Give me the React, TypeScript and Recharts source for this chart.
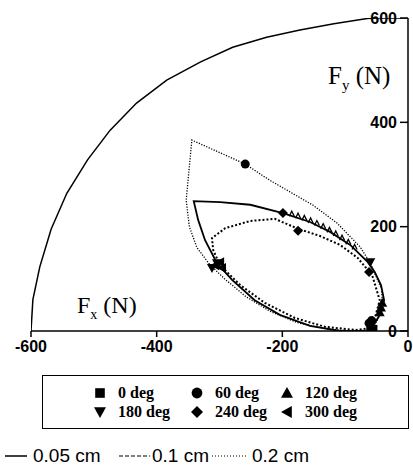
import React from 'react';
import { ScatterChart, Scatter, XAxis, YAxis } from 'recharts';

// quarter circle boundary (N)
const arcPts = [
  { x: -600, y: 0 }, { x: -597, y: 60 }, { x: -586, y: 123 }, { x: -568, y: 195 },
  { x: -543, y: 264 }, { x: -510, y: 328 }, { x: -474, y: 385 }, { x: -432, y: 437 },
  { x: -384, y: 481 }, { x: -330, y: 516 }, { x: -279, y: 544 }, { x: -225, y: 563 },
  { x: -172, y: 577 }, { x: -118, y: 589 }, { x: -65, y: 599 }, { x: -50, y: 600 },
  { x: 0, y: 600 },
];

// 0.05 cm loop
const solidPts = [
  { x: -60, y: 0 }, { x: -45, y: 31 }, { x: -38, y: 59 }, { x: -43, y: 88 },
  { x: -53, y: 113 }, { x: -64, y: 132 }, { x: -92, y: 165 }, { x: -124, y: 190 },
  { x: -156, y: 209 }, { x: -199, y: 226 }, { x: -251, y: 242 }, { x: -299, y: 247 },
  { x: -341, y: 249 }, { x: -334, y: 213 }, { x: -323, y: 174 }, { x: -304, y: 130 },
  { x: -280, y: 98 }, { x: -244, y: 59 }, { x: -204, y: 31 }, { x: -156, y: 10 },
  { x: -108, y: 0 }, { x: -60, y: 0 },
];

// 0.1 cm loop
const dashedPts = [
  { x: -57, y: 6 }, { x: -45, y: 59 }, { x: -57, y: 107 }, { x: -80, y: 140 },
  { x: -108, y: 165 }, { x: -140, y: 182 }, { x: -175, y: 196 }, { x: -212, y: 215 },
  { x: -251, y: 211 }, { x: -291, y: 197 }, { x: -312, y: 178 }, { x: -310, y: 155 },
  { x: -299, y: 126 }, { x: -267, y: 88 }, { x: -228, y: 54 }, { x: -180, y: 25 },
  { x: -132, y: 8 }, { x: -84, y: 2 }, { x: -57, y: 6 },
];

// 0.2 cm loop
const dottedPts = [
  { x: -58, y: 2 }, { x: -40, y: 40 }, { x: -42, y: 80 }, { x: -60, y: 130 },
  { x: -76, y: 161 }, { x: -113, y: 207 }, { x: -151, y: 241 }, { x: -220, y: 289 },
  { x: -259, y: 320 }, { x: -344, y: 366 }, { x: -353, y: 251 }, { x: -348, y: 200 },
  { x: -336, y: 160 }, { x: -316, y: 128 }, { x: -292, y: 100 }, { x: -258, y: 66 },
  { x: -220, y: 38 }, { x: -176, y: 16 }, { x: -130, y: 4 }, { x: -90, y: 0 },
  { x: -58, y: 2 },
];

// small ripples on the upper branch of the 0.05 cm loop
const ripplePts = [
  { x: -185, y: 222 }, { x: -175, y: 218 }, { x: -165, y: 214 }, { x: -155, y: 209 },
  { x: -145, y: 204 }, { x: -135, y: 198 }, { x: -125, y: 191 }, { x: -115, y: 184 },
  { x: -105, y: 176 }, { x: -95, y: 168 }, { x: -85, y: 158 },
];

// phase markers
const deg0 = [{ x: -57, y: -3 }, { x: -60, y: 1 }, { x: -55, y: 4 }];
const deg60 = [{ x: -259, y: 320 }, { x: -58, y: 20 }, { x: -62, y: 15 }];
const deg120 = [{ x: -41, y: 54 }, { x: -45, y: 36 }, { x: -43, y: 45 }];
const deg180 = [{ x: -60, y: 132 }, { x: -304, y: 130 }, { x: -312, y: 121 }];
const deg240 = [{ x: -199, y: 226 }, { x: -175, y: 192 }, { x: -62, y: 113 }];
const deg300 = [{ x: -307, y: 126 }, { x: -299, y: 132 }, { x: -296, y: 121 }];

const xTicks = [-600, -400, -200, 0];
const yTicks = [0, 200, 400, 600];

const legendRow1 = [
  { kind: 'square', label: '0 deg' },
  { kind: 'circle', label: '60 deg' },
  { kind: 'up', label: '120 deg' },
];
const legendRow2 = [
  { kind: 'down', label: '180 deg' },
  { kind: 'diamond', label: '240 deg' },
  { kind: 'left', label: '300 deg' },
];

const markerPath = (kind: string, cx: number, cy: number, r: number) => {
  switch (kind) {
    case 'square':
      return <rect x={cx - r * 0.8} y={cy - r * 0.8} width={r * 1.6} height={r * 1.6} fill="#000" />;
    case 'circle':
      return <circle cx={cx} cy={cy} r={r * 0.9} fill="#000" />;
    case 'up':
      return <polygon points={`${cx},${cy - r} ${cx + r},${cy + r * 0.8} ${cx - r},${cy + r * 0.8}`} fill="#000" />;
    case 'down':
      return <polygon points={`${cx},${cy + r} ${cx + r},${cy - r * 0.8} ${cx - r},${cy - r * 0.8}`} fill="#000" />;
    case 'diamond':
      return <polygon points={`${cx},${cy - r} ${cx + r},${cy} ${cx},${cy + r} ${cx - r},${cy}`} fill="#000" />;
    case 'left':
      return <polygon points={`${cx - r},${cy} ${cx + r * 0.8},${cy - r} ${cx + r * 0.8},${cy + r}`} fill="#000" />;
    default:
      return <g />;
  }
};

const makeShape = (kind: string) => (props: any) => markerPath(kind, props.cx, props.cy, 5);
const noShape = () => <g />;
const rippleShape = (props: any) => (
  <polyline
    points={`${props.cx - 2.5},${props.cy + 1} ${props.cx},${props.cy - 4} ${props.cx + 2.5},${props.cy + 1}`}
    fill="none"
    stroke="#000"
    strokeWidth={1.3}
  />
);

const tickStyle = { fill: '#000', fontSize: 16, fontWeight: 700, fontFamily: 'Liberation Sans, Arial, sans-serif' };
const serif = 'Liberation Serif, Times New Roman, serif';
const sans = 'Liberation Sans, Arial, sans-serif';

const LegendItem = ({ kind, label, x, y }: { kind: string; label: string; x: number; y: number }) => (
  <div style={{ position: 'absolute', left: x, top: y, height: 18, display: 'flex', alignItems: 'center' }}>
    <svg width={14} height={14} style={{ marginRight: 11 }}>
      {markerPath(kind, 7, 7, 6)}
    </svg>
    <span style={{ fontFamily: serif, fontWeight: 700, fontSize: 16 }}>{label}</span>
  </div>
);

const App = () => {
  const colX = [93, 190, 280];
  return (
    <div style={{ position: 'absolute', left: 0, top: 0, width: 413, height: 468, background: '#fff' }}>
      <ScatterChart width={413} height={365} margin={{ top: 18, right: 5, bottom: 0, left: 31 }}>
        <XAxis
          type="number"
          dataKey="x"
          domain={[-600, 0]}
          ticks={xTicks}
          allowDataOverflow
          height={34}
          tick={tickStyle}
          tickMargin={4}
          axisLine={{ stroke: '#000', strokeWidth: 1.5 }}
          tickLine={{ stroke: '#000', strokeWidth: 1.5 }}
        />
        <YAxis
          type="number"
          dataKey="y"
          orientation="right"
          mirror
          domain={[0, 600]}
          ticks={yTicks}
          allowDataOverflow
          width={40}
          tickSize={8}
          tickMargin={3}
          tick={tickStyle}
          axisLine={{ stroke: '#000', strokeWidth: 1.5 }}
          tickLine={{ stroke: '#000', strokeWidth: 1.5 }}
        />
        <Scatter data={arcPts} line={{ stroke: '#000', strokeWidth: 1.5 }} shape={noShape} isAnimationActive={false} />
        <Scatter data={dottedPts} line={{ stroke: '#000', strokeWidth: 1.3, strokeDasharray: '1.2 1.5' }} shape={noShape} isAnimationActive={false} />
        <Scatter data={dashedPts} line={{ stroke: '#000', strokeWidth: 2, strokeDasharray: '2 2' }} shape={noShape} isAnimationActive={false} />
        <Scatter data={solidPts} line={{ stroke: '#000', strokeWidth: 1.8 }} shape={noShape} isAnimationActive={false} />
        <Scatter data={ripplePts} shape={rippleShape} isAnimationActive={false} />
        <Scatter data={deg0} shape={makeShape('square')} isAnimationActive={false} />
        <Scatter data={deg60} shape={makeShape('circle')} isAnimationActive={false} />
        <Scatter data={deg120} shape={makeShape('up')} isAnimationActive={false} />
        <Scatter data={deg180} shape={makeShape('down')} isAnimationActive={false} />
        <Scatter data={deg240} shape={makeShape('diamond')} isAnimationActive={false} />
        <Scatter data={deg300} shape={makeShape('left')} isAnimationActive={false} />
      </ScatterChart>

      <div style={{ position: 'absolute', left: 328, top: 62, fontFamily: serif, fontSize: 25, whiteSpace: 'nowrap' }}>
        F<sub style={{ fontSize: 15 }}>y</sub> (N)
      </div>
      <div style={{ position: 'absolute', left: 77, top: 292, fontFamily: serif, fontSize: 24, whiteSpace: 'nowrap' }}>
        F<sub style={{ fontSize: 14 }}>x</sub> (N)
      </div>

      <div style={{ position: 'absolute', left: 42, top: 375, width: 365, height: 52, border: '1px solid #000' }} />
      {legendRow1.map((d, i) => (
        <LegendItem key={d.label} kind={d.kind} label={d.label} x={colX[i]} y={384} />
      ))}
      {legendRow2.map((d, i) => (
        <LegendItem key={d.label} kind={d.kind} label={d.label} x={colX[i]} y={403} />
      ))}

      <svg style={{ position: 'absolute', left: 0, top: 445 }} width={413} height={22}>
        <line x1={5} x2={27} y1={11} y2={11} stroke="#000" strokeWidth={1.5} />
        <line x1={119} x2={150} y1={11} y2={11} stroke="#000" strokeWidth={1.2} strokeDasharray="4 2" />
        <line x1={212} x2={248} y1={11} y2={11} stroke="#000" strokeWidth={1} strokeDasharray="1 2" />
        <text x={33} y={17} fontFamily={sans} fontSize={19}>0.05 cm</text>
        <text x={152} y={17} fontFamily={sans} fontSize={19}>0.1 cm</text>
        <text x={252} y={17} fontFamily={sans} fontSize={19}>0.2 cm</text>
      </svg>
    </div>
  );
};

export default App;
